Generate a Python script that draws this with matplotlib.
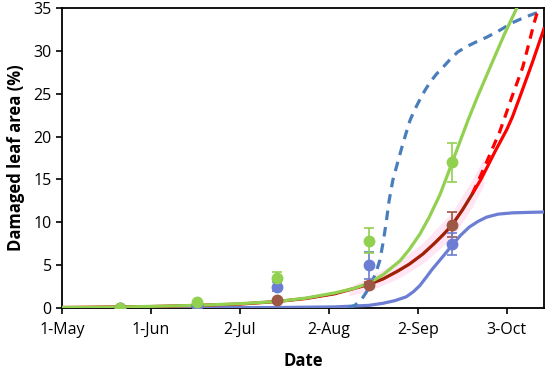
import matplotlib
matplotlib.use('Agg')
import matplotlib.pyplot as plt
import numpy as np

plt.rcParams['font.family'] = ['Open Sans', 'DejaVu Sans']

# x values are days after 1 May
tick_days = [0, 31, 62, 93, 124, 155]
tick_labels = ['1-May', '1-Jun', '2-Jul', '2-Aug', '2-Sep', '3-Oct']

obs_days = [20, 47, 75, 107, 136]
green_obs = [0.05, 0.7, 3.5, 7.8, 17.0]
green_err_lo = [0, 0, 0.4, 1.4, 2.3]
green_err_hi = [0, 0, 0.7, 1.5, 2.3]
blue_obs = [0.05, 0.3, 2.5, 5.0, 7.5]
blue_err_lo = [0, 0, 0.5, 1.6, 1.3]
blue_err_hi = [0, 0, 0.5, 1.5, 1.3]
brown_obs = [0.05, 0.25, 0.95, 2.7, 9.7]
brown_err_lo = [0, 0, 0, 0.3, 1.4]
brown_err_hi = [0, 0, 0, 0.3, 1.5]

# fitted curves
green_fit_x = [0, 20, 47, 62, 75, 85, 95, 102, 107, 112, 117.8, 121, 124.7, 128, 131.7,
               134, 136, 138.7, 141.5, 145, 150, 154, 158.5]
green_fit_y = [0.05, 0.1, 0.3, 0.5, 0.75, 1.15, 1.75, 2.3, 2.9, 3.9, 5.5, 6.8, 8.6, 10.6, 13.2,
               15.2, 17.0, 19.4, 21.9, 24.8, 28.7, 31.8, 35.0]

red_fit_x = [0, 30, 47, 62, 75, 85, 95, 107, 112, 117, 121, 125.8, 130, 133, 136, 139.7,
             143, 146, 148, 151, 155, 157, 160, 164, 167.6, 168]
red_fit_y = [0.05, 0.15, 0.3, 0.45, 0.75, 1.1, 1.65, 2.75, 3.4, 4.3, 5.1, 6.3, 7.6, 8.6, 9.7, 11.5,
             13.3, 15.0, 16.3, 18.3, 20.8, 22.3, 25.0, 28.7, 32.2, 32.6]

red_dash_x = [143, 146, 149, 152.6, 154.4, 157, 160.6, 163, 164.5, 165.5, 166]
red_dash_y = [13.3, 15.5, 17.8, 20.6, 22.3, 24.8, 28.1, 31.2, 33.2, 34.3, 34.6]

brown_fit_x = [0, 30, 47, 62, 75, 85, 95, 107, 112, 117, 121, 125.8, 130, 133, 136, 139.7, 143]
brown_fit_y = [0.05, 0.15, 0.3, 0.45, 0.75, 1.1, 1.65, 2.75, 3.4, 4.3, 5.1, 6.3, 7.6, 8.6, 9.7, 11.5, 13.3]

blue_fit_x = [0, 75, 95, 107, 112, 116, 120, 122.5, 124.7, 127, 129, 132, 134, 136, 139,
              142, 145, 148, 152, 157, 162, 168]
blue_fit_y = [0.0, 0.05, 0.12, 0.3, 0.55, 0.85, 1.3, 1.9, 2.6, 3.6, 4.5, 5.7, 6.5, 7.35, 8.5,
              9.45, 10.1, 10.6, 10.95, 11.1, 11.15, 11.2]

blue_dash_x = [100, 102, 104, 106, 108, 109.5, 110.8, 112, 113, 114, 115.3, 117, 118.5, 120,
               121.3, 123, 124.7, 126.5, 128.2, 130.5, 132.8, 135.5, 138, 141, 144, 148,
               152, 157, 161, 165, 166.5]
blue_dash_y = [0.0, 0.3, 0.8, 1.8, 3.0, 4.2, 5.6, 7.8, 10.0, 12.5, 14.9, 17.0, 18.8, 20.5,
               21.9, 23.2, 24.3, 25.4, 26.3, 27.3, 28.1, 29.1, 29.9, 30.5, 31.0, 31.6,
               32.3, 33.3, 33.9, 34.4, 34.5]

# faint pink band around the red fit
band_x = [100, 107, 117, 125.8, 136, 143, 147]
band_lo = [1.4, 2.0, 3.4, 5.2, 8.2, 11.8, 14.3]
band_hi = [2.4, 3.6, 5.4, 7.6, 11.2, 15.0, 17.5]

c_green = '#92D050'
c_blue = '#6B7ED3'
c_bdash = '#4A7EBB'
c_red = '#FF0000'
c_brown = '#9C5745'
c_brownline = '#8E2A0A'

fig = plt.figure(figsize=(5.5, 3.71), dpi=100)
ax = fig.add_axes([0.113, 0.17, 0.876, 0.808])

ax.fill_between(band_x, band_lo, band_hi, color='#FFE6F4', lw=0, zorder=1)

ax.plot(blue_fit_x, blue_fit_y, color=c_blue, lw=2.3, zorder=3)
ax.plot(blue_dash_x, blue_dash_y, color=c_bdash, lw=2.3, ls=(0, (3, 2.2)), zorder=3)
ax.plot(red_fit_x, red_fit_y, color=c_red, lw=2.3, zorder=3)
ax.plot(red_dash_x, red_dash_y, color=c_red, lw=2.3, ls=(0, (3, 2.2)), zorder=3)
ax.plot(brown_fit_x, brown_fit_y, color=c_brownline, lw=1.8, zorder=4)
ax.plot(green_fit_x, green_fit_y, color=c_green, lw=2.3, zorder=5)

for ys, lo, hi, c in [(brown_obs, brown_err_lo, brown_err_hi, c_brown),
                      (blue_obs, blue_err_lo, blue_err_hi, c_blue),
                      (green_obs, green_err_lo, green_err_hi, c_green)]:
    ax.errorbar(obs_days, ys, yerr=[lo, hi], fmt='o', color=c, ecolor=c,
                ms=7.5, elinewidth=1.2, capsize=3.5, capthick=1.2, zorder=6)

ax.set_xlim(0, 168)
ax.set_ylim(0, 35)
ax.set_xticks(tick_days)
ax.set_xticklabels(tick_labels)
ax.set_yticks(np.arange(0, 36, 5))
ax.tick_params(direction='out', length=4, width=1.2, labelsize=11.5, colors='black')
ax.tick_params(axis='x', pad=6)
for s in ax.spines.values():
    s.set_linewidth(1.3)

ax.set_xlabel('Date', fontsize=12, fontweight='bold', labelpad=10)
ax.set_ylabel('Damaged leaf area (%)', fontsize=12, fontweight='bold', labelpad=6)

fig.savefig('out.png', dpi=100)
